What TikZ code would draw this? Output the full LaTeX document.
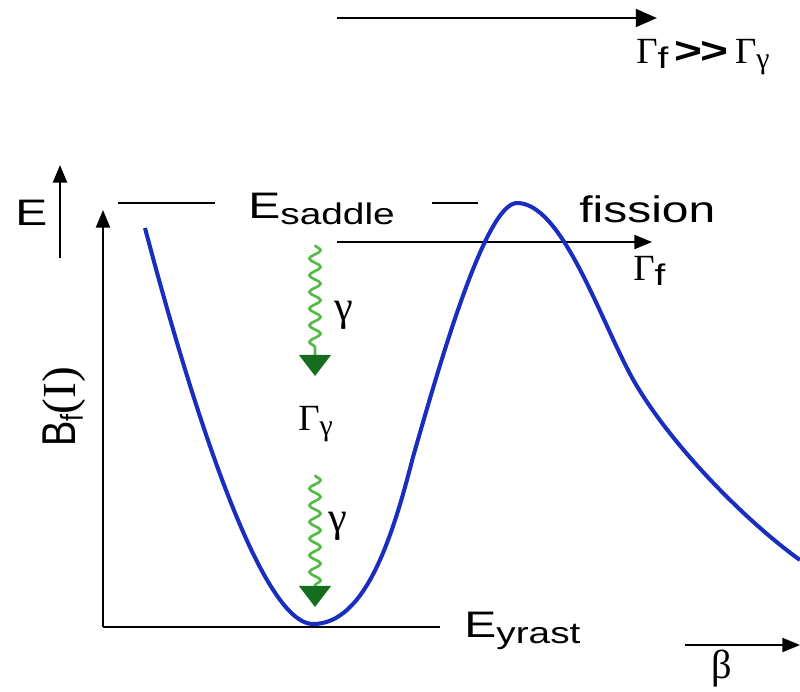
\documentclass[tikz,border=0pt]{standalone}
\usepackage{fontspec}
\setmainfont{Liberation Sans}[FakeStretch=1.3]
\newfontfamily\narrowsans{Liberation Sans}[FakeStretch=0.8]
\newfontfamily\greekfont{Liberation Serif}
\usetikzlibrary{arrows.meta,decorations.pathmorphing}
\definecolor{curveblue}{RGB}{25,45,190}
\definecolor{photongreen}{RGB}{85,185,70}
\definecolor{tipgreen}{RGB}{20,110,30}
\newcommand{\lowtxt}[1]{\raisebox{-0.35ex}{\fontsize{17}{18}\selectfont #1}}
\tikzset{
  axis/.style={line width=1.1pt, -{Triangle[length=10pt,width=8pt]}},
  level/.style={line width=0.9pt},
  photon/.style={photongreen, line width=1.5pt, -{Triangle[length=12pt,width=18pt,color=tipgreen]},
    decorate, decoration={snake, amplitude=3.2pt, segment length=9.5pt, post length=12pt}},
  lbl/.style={font=\fontsize{21}{24}\selectfont, inner sep=0pt},
  glbl/.style={font=\fontsize{21}{24}\selectfont\greekfont, inner sep=0pt},
}
\begin{document}
\begin{tikzpicture}[x=0.02cm, y=-0.02cm]
    \useasboundingbox (0,0) rectangle (800,691);

    % ratio arrow on top
    \coordinate (ratioL) at (337,18);
    \coordinate (ratioR) at (657,18);
    \draw[line width=1.6pt, -{Triangle[length=12pt,width=10pt]}] (ratioL) -- (ratioR);
    \node[glbl, anchor=base west] (ratio) at (636,63)
        {Γ\lowtxt{\rmfamily f}\,{\rmfamily\bfseries >\kern-1pt\relax>}\,Γ\lowtxt{\greekfont γ}};

    % energy axes
    \coordinate (eB) at (60,258);
    \coordinate (eT) at (60,165);
    \draw[axis] (eB) -- (eT);
    \node[lbl, anchor=base west] (elbl) at (15,225) {E};

    \coordinate (origin) at (103,627);
    \coordinate (yT) at (103,210);
    \coordinate (xR) at (440,627);
    \draw[axis] (origin) -- (yT);
    \draw[level] (origin) -- (xR);
    \node[font=\fontsize{27}{30}\selectfont\narrowsans, inner sep=0pt, rotate=90] (bf) at (64,407)
        {B{\raisebox{-0.3ex}{\fontsize{18}{20}\selectfont f}}{\greekfont(I)}};
    \node[lbl, anchor=base west] (yrast) at (464,637) {E\lowtxt{yrast}};

    % saddle level
    \node[lbl, anchor=base west] (saddle) at (248,218) {E\lowtxt{saddle}};
    \coordinate (s1) at (118,203);
    \coordinate (s2) at (215,203);
    \coordinate (s3) at (432,203);
    \coordinate (s4) at (478,203);
    \draw[level] (s1) -- (s2);
    \draw[level] (s3) -- (s4);

    % fission channel
    \coordinate (fL) at (337,242);
    \coordinate (fR) at (652,242);
    \draw[level, -{Triangle[length=10pt,width=8pt]}] (fL) -- (fR);
    \node[lbl, anchor=base west] (fission) at (579,222) {fission};
    \node[glbl, anchor=base west] (gf) at (633,280) {Γ\lowtxt{\rmfamily f}};

    % potential curve
    \coordinate (wallL) at (145,228);
    \coordinate (ground) at (313,624);
    \coordinate (flank) at (413,457);
    \coordinate (barrier) at (517,203);
    \coordinate (turn) at (628,370);
    \coordinate (tail) at (800,560);
    \draw[curveblue, line width=2.3pt]
        (wallL) .. controls (210,474) and (270,624) .. (ground)
        .. controls (366,624) and (393,535) .. (flank)
        .. controls (438,370) and (485,203) .. (barrier)
        .. controls (560,203) and (596,308) .. (turn)
        .. controls (660,433) and (740,517) .. (tail);

    % gamma cascade
    \coordinate (g1T) at (315,245);
    \coordinate (g1B) at (315,376);
    \coordinate (g2T) at (315,475);
    \coordinate (g2B) at (315,607);
    \draw[photon] (g1T) -- (g1B);
    \draw[photon] (g2T) -- (g2B);
    \node[glbl, font=\fontsize{24}{26}\selectfont\greekfont, anchor=base west] (gam1) at (334,320) {γ};
    \node[glbl, font=\fontsize{24}{26}\selectfont\greekfont, anchor=base west] (gam2) at (328,531) {γ};
    \node[glbl, anchor=base west] (ggam) at (298,430) {Γ\lowtxt{\greekfont γ}};

    % deformation axis
    \coordinate (bL) at (685,645);
    \coordinate (bR) at (800,645);
    \draw[level, -{Triangle[length=10pt,width=8pt]}] (bL) -- (bR);
    \node[glbl, font=\fontsize{23}{26}\selectfont\greekfont] (beta) at (722,669) {β};
\end{tikzpicture}
\end{document}
